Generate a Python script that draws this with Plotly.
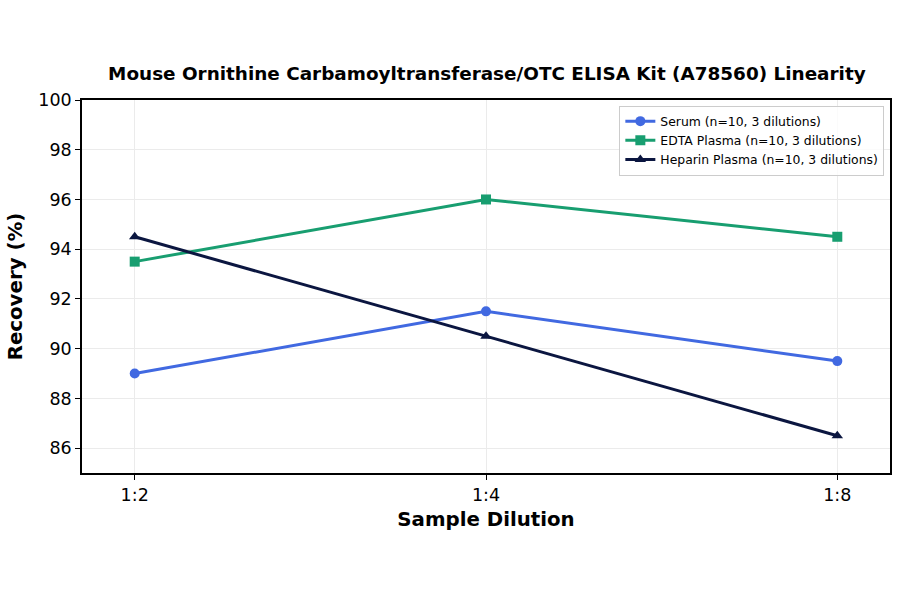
import plotly.graph_objects as go

dilutions = ["1:2", "1:4", "1:8"]
serum = [89.0, 91.5, 89.5]
edta = [93.5, 96.0, 94.5]
heparin = [94.5, 90.5, 86.5]

names = ["Serum (n=10, 3 dilutions)", "EDTA Plasma (n=10, 3 dilutions)", "Heparin Plasma (n=10, 3 dilutions)"]
colors = ["#4169E1", "#189E70", "#0B1640"]
symbols = ["circle", "square", "triangle-up"]

fig = go.Figure()
for vals, name, col, sym in zip([serum, edta, heparin], names, colors, symbols):
    fig.add_trace(go.Scatter(
        x=list(range(len(dilutions))), y=vals, name=name, mode="lines+markers",
        line=dict(color=col, width=3),
        marker=dict(symbol=sym, size=10, color=col),
    ))

fig.update_layout(
    width=900, height=594,
    paper_bgcolor="white", plot_bgcolor="white",
    margin=dict(l=82, r=10, t=100, b=121),
    font=dict(family="DejaVu Sans", color="black"),
    title=dict(text="<b>Mouse Ornithine Carbamoyltransferase/OTC ELISA Kit (A78560) Linearity</b>",
               x=0.541, xanchor="center", y=0.877, yanchor="middle", font=dict(size=18.4)),
    showlegend=True,
    legend=dict(x=0.993, y=0.985, xanchor="right", yanchor="top",
                bgcolor="rgba(255,255,255,0.8)", bordercolor="#cccccc", borderwidth=1,
                font=dict(size=12.4), tracegroupgap=0, itemwidth=30),
)
fig.update_xaxes(
    tickmode="array", tickvals=list(range(len(dilutions))), ticktext=dilutions,
    range=[-0.15, 2.15], showgrid=True, gridcolor="#ebebeb", gridwidth=1,
    showline=True, linecolor="black", linewidth=1.5, mirror=True,
    ticks="outside", ticklen=5, tickcolor="black", tickfont=dict(size=17.5),
    title=dict(text="<b>Sample Dilution</b>", font=dict(size=19.8), standoff=8),
    zeroline=False, automargin=False,
)
fig.update_yaxes(
    range=[85, 100], tickvals=[86, 88, 90, 92, 94, 96, 98, 100],
    showgrid=True, gridcolor="#ebebeb", gridwidth=1,
    showline=True, linecolor="black", linewidth=1.5, mirror=True,
    ticks="outside", ticklen=5, tickcolor="black", tickfont=dict(size=17.5),
    title=dict(text="<b>Recovery (%)</b>", font=dict(size=19.8), standoff=10),
    zeroline=False, automargin=False,
)

fig.write_html("out.html", config={"displayModeBar": False},
               post_script="document.body.style.margin='0';")
